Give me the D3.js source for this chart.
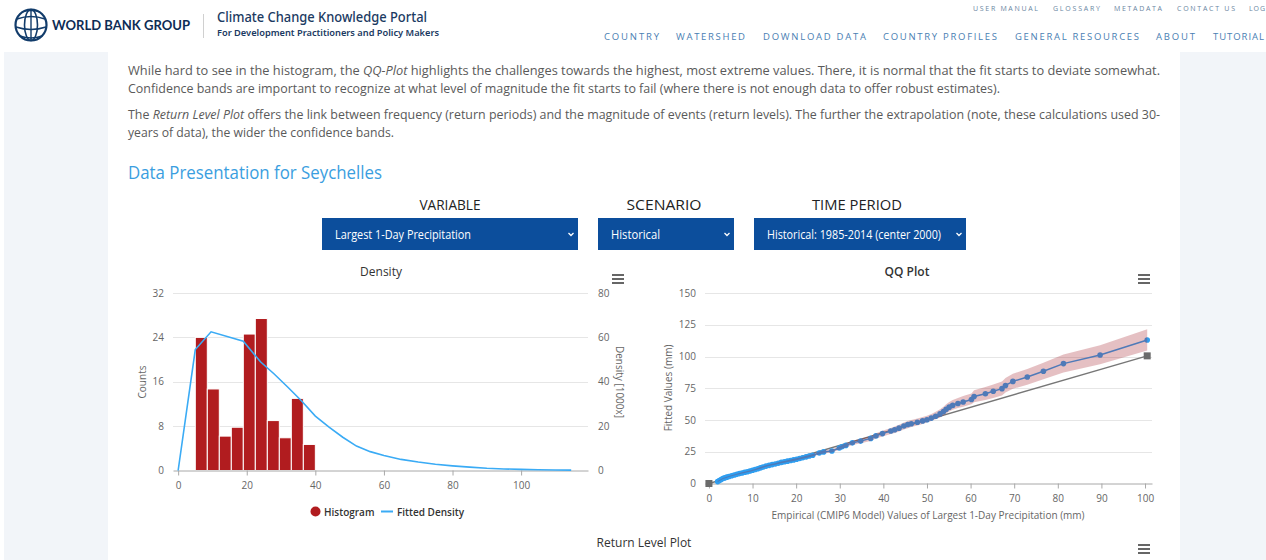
<!DOCTYPE html>
<html><head><meta charset="utf-8">
<script src="https://cdn.jsdelivr.net/npm/d3@7"></script>
<style>
html,body{margin:0;padding:0;background:#fff;overflow:hidden;}
svg{display:block;font-family:"Open Sans",sans-serif;}
</style></head><body>
<svg id="c" width="1266" height="560"></svg>
<script>
// ---------- DATA ----------
const histBinEdges = [5, 8.5, 12, 15.5, 19, 22.5, 26, 29.5, 33, 36.5, 40];
const histCounts   = [24, 14.7, 6.2, 7.8, 24.6, 27.4, 9, 5.9, 13, 4.7];
const densX = [0, 5, 9.6, 19, 24, 28, 32, 36, 40, 44, 48, 52, 56, 60, 65, 70, 75, 80, 85, 90, 95, 100, 105, 110, 114.6];
const densY = [0, 54.5, 62.5, 58.3, 49, 43.5, 37.5, 31.3, 24.5, 19.5, 15, 11, 8.5, 6.8, 5, 3.8, 2.8, 2.1, 1.5, 1.0, 0.7, 0.5, 0.35, 0.25, 0.15];
const densXTicks = [0, 20, 40, 60, 80, 100];
const densCountTicks = [0, 8, 16, 24, 32];
const densDensityTicks = [0, 20, 40, 60, 80];

const qqEmpirical = [2.0,2.4,2.8,3.2,3.6,4.1,4.6,5.2,5.8,6.4,7.0,7.6,8.2,8.8,9.4,10.0,10.6,11.2,11.8,12.4,13.1,13.8,14.5,15.2,15.9,16.6,17.3,18.0,18.7,19.4,20.1,20.8,21.5,22.3,23.0,23.8,25.3,26.3,28.2,29.9,30.5,31.4,32.9,34.8,37.1,38.3,39.8,41.7,42.6,43.6,44.7,45.6,46.4,47.8,49.0,50.0,51.0,52.0,53.0,53.8,54.4,55.1,55.9,57.1,58.3,60.2,60.8,63.4,65.2,67.2,68.0,69.7,73.0,76.7,81.3,89.7,100.5];
const qqFitted    = [1.5,2.4,3.2,3.9,4.4,5.0,5.5,6.1,6.7,7.2,7.8,8.3,8.8,9.3,9.8,10.4,11.0,11.6,12.3,13.0,13.7,14.3,14.9,15.4,16.0,16.6,17.1,17.6,18.1,18.6,19.1,19.7,20.3,21.0,21.6,22.2,24.0,24.9,25.6,27.9,28.9,30.0,32.0,33.4,35.5,37.5,39.3,41.3,42.3,43.6,45.3,46.4,47.1,48.2,49.3,50.2,51.5,53.0,54.8,56.6,58.5,60.1,61.5,63.0,64.2,66.1,68.5,70.7,72.6,74.7,77.2,80.4,83.9,88.4,94.4,101.2,113.0];
const qqLower     = [1.2,2.0,2.8,3.5,4.0,4.6,5.1,5.7,6.3,6.8,7.3,7.8,8.3,8.8,9.3,9.9,10.5,11.1,11.7,12.4,13.1,13.7,14.3,14.8,15.3,15.9,16.4,16.9,17.4,17.8,18.3,18.9,19.4,20.1,20.7,21.2,22.9,23.7,24.4,26.5,27.4,28.4,30.3,31.6,33.5,35.4,37.0,38.9,39.8,41.0,42.6,43.6,44.4,45.6,46.8,48.0,49.2,50.6,52.0,53.6,55.2,56.6,58.0,59.4,60.5,62.5,64.0,65.8,67.4,69.3,71.6,74.6,77.8,82.0,87.5,93.8,104.8];
const qqUpper     = [1.9,2.8,3.6,4.3,4.8,5.4,5.9,6.5,7.1,7.7,8.3,8.8,9.3,9.8,10.3,10.9,11.5,12.2,12.9,13.6,14.3,14.9,15.5,16.0,16.7,17.3,17.8,18.3,18.9,19.4,19.9,20.5,21.1,21.9,22.5,23.2,25.1,26.1,26.9,29.3,30.4,31.6,33.7,35.2,37.5,39.6,41.6,43.7,44.8,46.2,48.0,49.2,50.0,51.2,52.4,53.4,54.8,56.4,58.4,60.4,62.4,64.2,65.8,67.4,68.8,70.9,73.5,75.9,78.0,80.3,83.0,86.4,90.2,95.0,101.5,108.8,121.5];
const qqRefX = [0, 100.5];
const qqRefY = [0, 100.5];
const qqXTicks = [0, 10, 20, 30, 40, 50, 60, 70, 80, 90, 100];
const qqYTicks = [0, 25, 50, 75, 100, 125, 150];

const topNav = ["USER MANUAL", "GLOSSARY", "METADATA", "CONTACT US", "LOG"];
const mainNav = ["COUNTRY", "WATERSHED", "DOWNLOAD DATA", "COUNTRY PROFILES", "GENERAL RESOURCES", "ABOUT", "TUTORIAL"];
const selectorLabels = ["VARIABLE", "SCENARIO", "TIME PERIOD"];
const selectorValues = ["Largest 1-Day Precipitation", "Historical", "Historical: 1985-2014 (center 2000)"];

// ---------- LAYOUT ----------
const svg = d3.select("#c");
function txt(g, x, y, s, o = {}) {
  const t = g.append("text").attr("x", x).attr("y", y).text(s)
    .attr("font-size", o.size || 10).attr("fill", o.fill || "#666")
    .attr("font-weight", o.weight || 400).attr("text-anchor", o.anchor || "start");
  if (o.family) t.attr("font-family", o.family);
  if (o.ls) t.attr("letter-spacing", o.ls);
  if (o.len) t.attr("textLength", o.len).attr("lengthAdjust", o.adj || "spacingAndGlyphs");
  if (o.style) t.attr("font-style", o.style);
  return t;
}

// side panels
svg.append("rect").attr("x", 4).attr("y", 52).attr("width", 104).attr("height", 508).attr("fill", "#f2f5f9");
svg.append("rect").attr("x", 1180).attr("y", 52).attr("width", 86).attr("height", 508).attr("fill", "#f2f5f9");

// logo
const logo = svg.append("g").attr("fill", "none").attr("stroke", "#123c6b");
logo.append("circle").attr("cx", 31).attr("cy", 25).attr("r", 15.5).attr("stroke-width", 2.2);
logo.append("ellipse").attr("cx", 31).attr("cy", 25).attr("rx", 6.5).attr("ry", 15.5).attr("stroke-width", 1.6);
logo.append("path").attr("d", "M17,19 Q31,14 45,19 M16,27 Q31,32 46,27 M20,36 Q31,40 42,36 M22,12 Q31,9 40,12").attr("stroke-width", 1.5);
logo.append("path").attr("d", "M31,9.5 L31,40.5").attr("stroke-width", 1.4);
txt(svg, 52, 30, "WORLD BANK GROUP", {size: 14, weight: 700, fill: "#0d2c55", family: "Lato", len: 138});
svg.append("line").attr("x1", 203.5).attr("x2", 203.5).attr("y1", 14).attr("y2", 38).attr("stroke", "#d0d0d0");
txt(svg, 217, 22, "Climate Change Knowledge Portal", {size: 14, weight: 500, fill: "#1b3a62", family: "Noto Sans", len: 210});
txt(svg, 217, 36, "For Development Practitioners and Policy Makers", {size: 9.5, weight: 600, fill: "#1b3a62", family: "Noto Sans", len: 222});

// nav
const topNavX = [973, 1053, 1114, 1177, 1249], topNavW = [65, 47, 48, 58, 16];
topNav.forEach((s, i) => txt(svg, topNavX[i], 11, s, {size: 7, fill: "#6a86a2", len: topNavW[i], adj: "spacing"}));
const mainNavX = [604, 676, 763, 883, 1015, 1156, 1213], mainNavW = [55, 69, 103, 114, 124, 39, 51];
mainNav.forEach((s, i) => txt(svg, mainNavX[i], 40, s, {size: 9.5, fill: "#4a80b3", len: mainNavW[i], adj: "spacing"}));

// paragraphs
function para(y, parts, len) {
  const t = svg.append("text").attr("x", 128).attr("y", y).attr("font-size", 12.5).attr("fill", "#5a5a5a");
  parts.forEach(p => t.append("tspan").text(p[0]).attr("font-style", p[1] ? "italic" : "normal"));
  if (len) t.attr("textLength", len).attr("lengthAdjust", "spacingAndGlyphs");
}
para(75, [["While hard to see in the histogram, the "], ["QQ-Plot", 1], [" highlights the challenges towards the highest, most extreme values. There, it is normal that the fit starts to deviate somewhat."]], 1032);
para(93, [["Confidence bands are important to recognize at what level of magnitude the fit starts to fail (where there is not enough data to offer robust estimates)."]], 872);
para(119, [["The "], ["Return Level Plot", 1], [" offers the link between frequency (return periods) and the magnitude of events (return levels). The further the extrapolation (note, these calculations used 30-"]], 1032);
para(137, [["years of data), the wider the confidence bands."]], 266);

txt(svg, 128, 179, "Data Presentation for Seychelles", {size: 17.5, fill: "#3a9ee0", weight: 500, len: 254});

// selectors
const selLabelX = [450, 664, 857], selLabelW = [61, 75, 90];
selectorLabels.forEach((s, i) => txt(svg, selLabelX[i], 209.5, s, {size: 15, fill: "#222", anchor: "middle", len: selLabelW[i]}));
const boxX = [322, 598, 754], boxW = [256, 136, 212], selTextW = [136, 49, 174];
selectorValues.forEach((s, i) => {
  svg.append("rect").attr("x", boxX[i]).attr("y", 218).attr("width", boxW[i]).attr("height", 32).attr("fill", "#0c4e9c");
  txt(svg, boxX[i] + 13, 238.5, s, {size: 12, fill: "#fff", len: selTextW[i]});
  const cx = boxX[i] + boxW[i] - 7;
  svg.append("path").attr("d", `M${cx - 2.5},233 L${cx},235.5 L${cx + 2.5},233`).attr("fill", "none").attr("stroke", "#fff").attr("stroke-width", 1.3);
});

function burger(x, y) {
  [0, 4, 8].forEach(d => svg.append("rect").attr("x", x).attr("y", y + d).attr("width", 12).attr("height", 2).attr("fill", "#666"));
}

// ---------- DENSITY CHART ----------
const dG = svg.append("g");
const xD = d3.scaleLinear().domain([-1.5, 119.5]).range([173, 588]);
const yC = d3.scaleLinear().domain([0, 32]).range([470.5, 293]);
const yDen = d3.scaleLinear().domain([0, 80]).range([470.5, 293]);
txt(dG, 381, 276, "Density", {size: 12, fill: "#333", anchor: "middle"});
burger(612, 274);
dG.selectAll("line.grid").data(densCountTicks.slice(1)).join("line")
  .attr("x1", 173).attr("x2", 588).attr("y1", d => Math.round(yC(d)) + 0.5).attr("y2", d => Math.round(yC(d)) + 0.5)
  .attr("stroke", "#e6e6e6");
dG.selectAll("rect.bar").data(histCounts).join("rect")
  .attr("x", (d, i) => xD(histBinEdges[i])).attr("width", (d, i) => xD(histBinEdges[i + 1]) - xD(histBinEdges[i]))
  .attr("y", d => yC(d)).attr("height", d => yC(0) - yC(d))
  .attr("fill", "#b11c1f").attr("stroke", "#fff").attr("stroke-width", 1);
const axD = dG.append("g").attr("transform", `translate(0,${yC(0)})`)
  .call(d3.axisBottom(xD).tickValues(densXTicks).tickSize(5).tickSizeOuter(0).tickPadding(6));
axD.select(".domain").attr("stroke", "#a8a8a8");
axD.selectAll(".tick line").attr("stroke", "#a8a8a8");
axD.selectAll("text").attr("fill", "#666").attr("font-size", 10).attr("font-family", "Open Sans");
const alD = dG.append("g").attr("transform", "translate(173,0)")
  .call(d3.axisLeft(yC).tickValues(densCountTicks).tickSize(0).tickPadding(9));
alD.select(".domain").remove();
alD.selectAll("text").attr("fill", "#666").attr("font-size", 10).attr("font-family", "Open Sans");
const arD = dG.append("g").attr("transform", "translate(588,0)")
  .call(d3.axisRight(yDen).tickValues(densDensityTicks).tickSize(0).tickPadding(10));
arD.select(".domain").remove();
arD.selectAll("text").attr("fill", "#666").attr("font-size", 10).attr("font-family", "Open Sans");
txt(dG, 0, 0, "Counts", {size: 10, fill: "#666", anchor: "middle"}).attr("transform", "translate(146,382) rotate(-90)");
txt(dG, 0, 0, "Density [1000x]", {size: 10, fill: "#666", anchor: "middle"}).attr("transform", "translate(616,382) rotate(90)");
dG.append("path").datum(densX.map((x, i) => [x, densY[i]]))
  .attr("d", d3.line().x(d => xD(d[0])).y(d => yDen(d[1])))
  .attr("fill", "none").attr("stroke", "#3aabf5").attr("stroke-width", 1.6);
dG.append("circle").attr("cx", 315.5).attr("cy", 511.5).attr("r", 5).attr("fill", "#b11c1f");
txt(dG, 324, 515.5, "Histogram", {size: 10, fill: "#333", weight: 600});
dG.append("line").attr("x1", 381).attr("x2", 393).attr("y1", 511.5).attr("y2", 511.5).attr("stroke", "#3aabf5").attr("stroke-width", 2);
txt(dG, 397, 515.5, "Fitted Density", {size: 10, fill: "#333", weight: 600});

// ---------- QQ CHART ----------
const qG = svg.append("g");
const xQ = d3.scaleLinear().domain([-0.9, 101.6]).range([705, 1152]);
const yQ = d3.scaleLinear().domain([0, 150]).range([483.5, 293]);
txt(qG, 907, 276, "QQ Plot", {size: 12, fill: "#333", anchor: "middle", weight: 600});
burger(1138, 274);
qG.selectAll("line.grid").data(qqYTicks.slice(1)).join("line")
  .attr("x1", 705).attr("x2", 1152).attr("y1", d => Math.round(yQ(d)) + 0.5).attr("y2", d => Math.round(yQ(d)) + 0.5)
  .attr("stroke", "#e6e6e6");
const axQ = qG.append("g").attr("transform", `translate(0,${yQ(0)})`)
  .call(d3.axisBottom(xQ).tickValues(qqXTicks).tickSize(5).tickSizeOuter(0).tickPadding(6));
axQ.select(".domain").attr("stroke", "#a8a8a8");
axQ.selectAll(".tick line").attr("stroke", "#a8a8a8");
axQ.selectAll("text").attr("fill", "#666").attr("font-size", 10).attr("font-family", "Open Sans");
const alQ = qG.append("g").attr("transform", "translate(705,0)")
  .call(d3.axisLeft(yQ).tickValues(qqYTicks).tickSize(0).tickPadding(9));
alQ.select(".domain").remove();
alQ.selectAll("text").attr("fill", "#666").attr("font-size", 10).attr("font-family", "Open Sans");
txt(qG, 0, 0, "Fitted Values (mm)", {size: 10, fill: "#666", anchor: "middle"}).attr("transform", "translate(672,388) rotate(-90)");
txt(qG, 928, 519, "Empirical (CMIP6 Model) Values of Largest 1-Day Precipitation (mm)", {size: 10, fill: "#666", anchor: "middle"});
const refPts = qqRefX.map((x, i) => [x, qqRefY[i]]);
qG.append("path").datum(refPts).attr("d", d3.line().x(d => xQ(d[0])).y(d => yQ(d[1])))
  .attr("fill", "none").attr("stroke", "#777").attr("stroke-width", 1.5);
qG.selectAll("rect.sq").data(refPts).join("rect")
  .attr("x", d => xQ(d[0]) - 3.5).attr("y", d => yQ(d[1]) - 3.5).attr("width", 7).attr("height", 7).attr("fill", "#6b6b6b");
const qqPts = qqEmpirical.map((x, i) => [x, qqFitted[i]]);
qG.append("path").datum(qqPts).attr("d", d3.line().x(d => xQ(d[0])).y(d => yQ(d[1])))
  .attr("fill", "none").attr("stroke", "#2f9ef0").attr("stroke-width", 1.5);
qG.selectAll("circle.pt").data(qqPts).join("circle")
  .attr("cx", d => xQ(d[0])).attr("cy", d => yQ(d[1])).attr("r", 2.8).attr("fill", "#2f9ef0");
qG.append("path").datum(qqEmpirical.map((x, i) => [x, qqLower[i], qqUpper[i]]))
  .attr("d", d3.area().x(d => xQ(d[0])).y0(d => yQ(d[1])).y1(d => yQ(d[2])))
  .attr("fill", "rgba(160,30,40,0.28)");

// ---------- RETURN LEVEL (header only) ----------
txt(svg, 644, 547, "Return Level Plot", {size: 12, fill: "#333", anchor: "middle"});
burger(1138, 544);
</script>
</body></html>
